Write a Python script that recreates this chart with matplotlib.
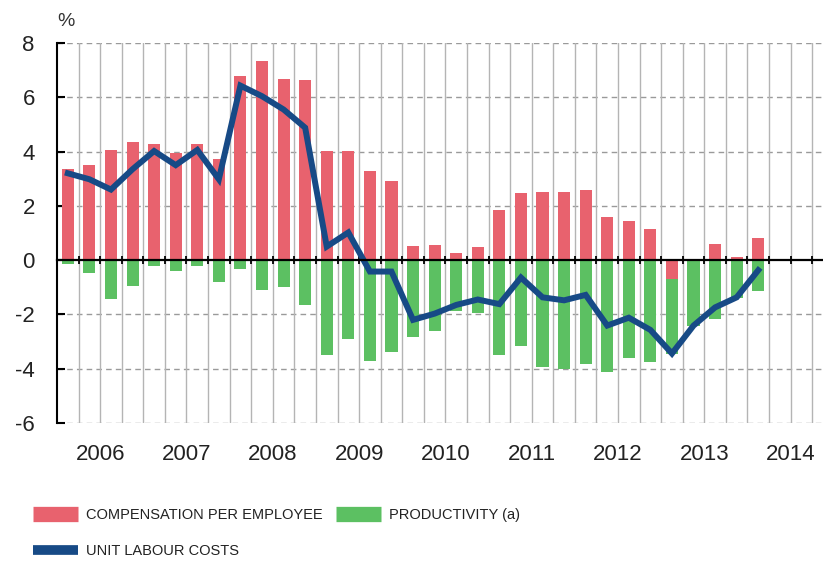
import numpy as np
import matplotlib
matplotlib.use("Agg")
import matplotlib.pyplot as plt
from matplotlib.lines import Line2D
from matplotlib.transforms import blended_transform_factory

# Quarterly year-on-year rates, 2006 Q1 - 2014 Q1
years = ["2006", "2007", "2008", "2009", "2010", "2011", "2012", "2013", "2014"]
compensation = [3.37, 3.50, 4.04, 4.36, 4.29, 3.93, 4.29, 3.74,
                6.80, 7.32, 6.68, 6.64, 4.02, 4.02, 3.30, 2.90,
                0.51, 0.56, 0.27, 0.50, 1.85, 2.49, 2.52, 2.52,
                2.58, 1.60, 1.46, 1.16, -0.71, 0.00, 0.58, 0.11,
                0.81]
productivity = [-0.15, -0.48, -1.43, -0.94, -0.23, -0.39, -0.21, -0.80,
                -0.33, -1.11, -0.98, -1.65, -3.50, -2.92, -3.73, -3.37,
                -2.84, -2.60, -1.88, -1.94, -3.51, -3.15, -3.93, -4.00,
                -3.84, -4.12, -3.60, -3.76, -2.74, -2.41, -2.17, -1.38,
                -1.13]
unit_labour_costs = [3.20, 2.98, 2.60, 3.35, 4.02, 3.50, 4.06, 2.98,
                     6.43, 6.04, 5.55, 4.88, 0.50, 1.02, -0.42, -0.42,
                     -2.20, -1.97, -1.65, -1.45, -1.62, -0.64, -1.37, -1.48,
                     -1.28, -2.41, -2.12, -2.57, -3.44, -2.41, -1.74, -1.37,
                     -0.37]

RED = "#e8626e"
GREEN = "#5cc062"
BLUE = "#174a86"

plt.rcParams["font.family"] = "Liberation Sans"
plt.rcParams["axes.unicode_minus"] = False

fig = plt.figure(figsize=(8.23, 5.65), dpi=100)
ax = fig.add_axes([0.0693, 0.2513, 0.9307, 0.6726])

comp = np.array(compensation)
prod = np.array(productivity)
x = np.arange(len(comp)) + 0.5

ax.bar(x, comp, width=0.56, color=RED, zorder=2)
# productivity stacks below a negative compensation bar
ax.bar(x, prod, width=0.56, bottom=np.minimum(comp, 0), color=GREEN, zorder=2)
ax.plot(x, unit_labour_costs, color=BLUE, lw=4.3, solid_joinstyle="miter", zorder=3)

ax.set_xlim(0, 35.5)
ax.set_ylim(-6, 8)

# dashed horizontal grid, solid vertical quarter dividers
for y in [-6, -4, -2, 2, 4, 6, 8]:
    ax.axhline(y, color="#9a9a9a", lw=1.0, ls=(0, (4, 3)), zorder=1)
for q in range(1, 36):
    ax.axvline(q, color="#b4b4b4", lw=1.0, zorder=1)

ax.spines["top"].set_visible(False)
ax.spines["right"].set_visible(False)
ax.spines["left"].set_linewidth(1.5)
ax.spines["bottom"].set_position(("data", 0))
ax.spines["bottom"].set_linewidth(1.6)
ax.spines["bottom"].set_zorder(4)

ax.set_xticks(range(1, 36))
ax.tick_params(axis="x", direction="inout", length=6, width=1.3, labelbottom=False)
ax.set_yticks(range(-6, 9, 2))
ax.tick_params(axis="y", direction="in", length=6, width=1.5, pad=16,
               labelsize=16, labelcolor="#222222")

trans = blended_transform_factory(ax.transData, ax.transAxes)
for i, yr in enumerate(years):
    ax.text(4 * i + 2, -0.082, yr, transform=trans, ha="center", va="center",
            fontsize=16, color="#222222")

fig.text(0.080, 0.962, "%", ha="center", va="center", fontsize=14, color="#333333")

handles = [
    Line2D([], [], color=RED, lw=11, solid_capstyle="butt"),
    Line2D([], [], color=BLUE, lw=7, solid_capstyle="butt"),
    Line2D([], [], color=GREEN, lw=11, solid_capstyle="butt"),
]
labels = ["COMPENSATION PER EMPLOYEE", "UNIT LABOUR COSTS", "PRODUCTIVITY (a)"]
fig.legend(handles, labels, ncol=2, loc="upper left", bbox_to_anchor=(0.04, 0.101),
           frameon=False, handlelength=3.08, handletextpad=0.55, labelspacing=1.5,
           columnspacing=0.9, borderaxespad=0, borderpad=0,
           prop={"size": 10.5}, labelcolor="#222222")

fig.savefig("out.png", dpi=100)
